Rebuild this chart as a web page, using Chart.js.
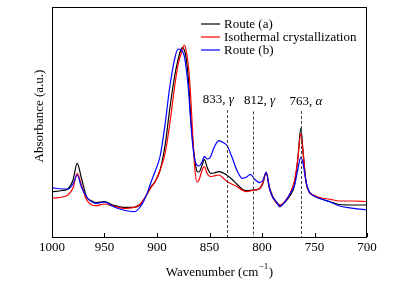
<!DOCTYPE html>
<html>
<head>
<meta charset="utf-8">
<script src="https://cdn.jsdelivr.net/npm/chart.js@4/dist/chart.umd.min.js"></script>
<style>
html,body{margin:0;padding:0;background:#fff;}
#wrap{width:398px;height:285px;position:relative;}
</style>
</head>
<body>
<div id="wrap"><canvas id="c" width="398" height="285"></canvas></div>
<script>
const wavenumber = [1000,990,985,980,976,972,967,962,958,950,942,932,922,916,910,906,902,897,892,888,883,880,878,876,874,872,870,868,866,864,862,860,857,855,852,849,846,841,837,833,829,824,819,815,811,807,802,799,796,793,790,787,783,778,773,769,766,763,761,758,755,752,745,735,726,713,700];
const routeA = [45.3,46.5,48,57,73.7,59,40,36,34.3,35.3,32,29.7,29.7,32,42,50,55,67,94,127,162,177,185,189.5,187,177,157,122,97,77,66,65,72,77.7,69,63.7,64,65.3,64,61.5,58,53,48,46.3,46.7,47,48.7,54,65,50,41,36,32,35,42,52,77,108.7,87,55,45,42,38.5,35.3,32.5,32,32];
const isothermal = [38.7,40,42,49,63.7,52,37,32,31.3,33,31,28.7,29.7,33,42,49,55,67,85,112,152,172,180,187,192,185,170,142,102,69,55,57,67,70.5,63,60.3,61,62,59,55.3,53,50.5,47,45.3,46,47,48.7,55,64.3,49,40,35,31.5,36,44,57,77,103.7,85,54,45,42.5,39.5,37.7,36,36,35.5];
const routeB = [49.3,48,48,53,62,50,40,35,33.7,35,30.5,27,25.3,30,42,54,65,81,115,149,179,188,187.5,186,181,167,147,117,92,77,72,71,75.3,80.3,78,80,88.7,96.3,94.5,91,81,67,58.7,59.7,62.7,57.7,54.3,57,64.7,49,40,36,30.3,35.3,44,52,67,79.7,74,55,45,42,38.5,35,31,28.7,27];
const seriesNames = ['Route (a)','Isothermal crystallization','Route (b)'];
const seriesColors = ['#000000','#ff0000','#0000ff'];
const xTicks = [1000,950,900,850,800,750,700];
const markerPos = [833,809,763];
const markerNum = ['833, ','812, ','763, '];
const markerSym = ['\u03b3','\u03b3','\u03b1'];

const seriesValues = [routeA, isothermal, routeB];
const FONT = '"Liberation Serif", "Times New Roman", serif';

const datasets = seriesValues.map((vals, i) => ({
  label: seriesNames[i],
  data: wavenumber.map((w, j) => ({x: w, y: vals[j]})),
  borderColor: seriesColors[i],
  borderWidth: 1.2,
  pointRadius: 0,
  fill: false,
  cubicInterpolationMode: 'monotone',
  order: 3 - i
}));

const decor = {
  id: 'decor',
  afterDatasetsDraw(chart) {
    const ctx = chart.ctx;
    const a = chart.chartArea;
    const xs = chart.scales.x;
    ctx.save();
    // dashed markers
    ctx.strokeStyle = '#444';
    ctx.lineWidth = 1;
    ctx.setLineDash([3, 2]);
    const tops = [110, 111.5, 111];
    markerPos.forEach((p, i) => {
      const x = Math.round(xs.getPixelForValue(p)) + 0.5;
      ctx.beginPath();
      ctx.moveTo(x, tops[i]);
      ctx.lineTo(x, a.bottom);
      ctx.stroke();
    });
    ctx.setLineDash([]);
    // marker labels
    const offs = [-9, 7, 5];
    const bases = [103, 103.5, 104.5];
    ctx.fillStyle = '#000';
    ctx.textBaseline = 'alphabetic';
    markerPos.forEach((p, i) => {
      const cx = xs.getPixelForValue(p) + offs[i];
      ctx.font = '13px ' + FONT;
      const w1 = ctx.measureText(markerNum[i]).width;
      ctx.font = 'italic 13px ' + FONT;
      const w2 = ctx.measureText(markerSym[i]).width;
      const x0 = cx - (w1 + w2) / 2;
      ctx.font = '13px ' + FONT;
      ctx.textAlign = 'left';
      ctx.fillText(markerNum[i], x0, bases[i]);
      ctx.font = 'italic 13px ' + FONT;
      ctx.fillText(markerSym[i], x0 + w1, bases[i]);
    });
    // frame
    ctx.strokeStyle = '#000';
    ctx.lineWidth = 1;
    ctx.strokeRect(a.left + 0.5, a.top + 0.5, a.right - a.left - 1, a.bottom - a.top);
    // inward ticks
    xTicks.forEach(t => {
      const x = Math.round(xs.getPixelForValue(t)) + 0.5;
      ctx.beginPath();
      ctx.moveTo(x, a.bottom);
      ctx.lineTo(x, a.bottom - 4);
      ctx.stroke();
    });
    // legend
    const ly = [24, 37, 50];
    seriesNames.forEach((n, i) => {
      ctx.strokeStyle = seriesColors[i];
      ctx.lineWidth = 1.2;
      ctx.beginPath();
      ctx.moveTo(201, ly[i]);
      ctx.lineTo(220, ly[i]);
      ctx.stroke();
      ctx.fillStyle = '#000';
      ctx.font = '13px ' + FONT;
      ctx.textAlign = 'left';
      ctx.textBaseline = 'middle';
      ctx.fillText(n, 224, ly[i] + 0.5);
    });
    // y title
    ctx.save();
    ctx.translate(40, 116);
    ctx.rotate(-Math.PI / 2);
    ctx.textAlign = 'center';
    ctx.textBaseline = 'middle';
    ctx.font = '13px ' + FONT;
    ctx.fillText('Absorbance (a.u.)', 0, 0);
    ctx.restore();
    // x title
    ctx.font = '13px ' + FONT;
    const t1 = 'Wavenumber (cm';
    const sup = '\u22121';
    const t3 = ')';
    const w1 = ctx.measureText(t1).width;
    ctx.font = '9px ' + FONT;
    const w2 = ctx.measureText(sup).width;
    ctx.font = '13px ' + FONT;
    const w3 = ctx.measureText(t3).width;
    let x0 = 219.5 - (w1 + w2 + w3 + 1) / 2;
    ctx.textAlign = 'left';
    ctx.textBaseline = 'alphabetic';
    ctx.fillText(t1, x0, 276);
    ctx.font = '9px ' + FONT;
    ctx.fillText(sup, x0 + w1 + 0.5, 269);
    ctx.font = '13px ' + FONT;
    ctx.fillText(t3, x0 + w1 + w2 + 1, 276);
    ctx.restore();
  }
};

new Chart(document.getElementById('c'), {
  type: 'line',
  data: { datasets },
  plugins: [decor],
  options: {
    responsive: false,
    animation: false,
    events: [],
    layout: { padding: { top: 7, right: 31, left: 0, bottom: 0 } },
    plugins: { legend: { display: false }, tooltip: { enabled: false } },
    scales: {
      x: {
        type: 'linear',
        reverse: true,
        min: 700,
        max: 1000,
        afterBuildTicks(s) { s.ticks = xTicks.map(v => ({value: v})); },
        afterFit(s) { s.height = 48; },
        grid: { display: false, drawTicks: false },
        border: { display: false },
        ticks: { color: '#000', padding: 3, maxRotation: 0, autoSkip: false, font: { family: FONT, size: 13 }, callback: v => String(v) }
      },
      y: {
        min: 0,
        max: 230,
        afterFit(s) { s.width = 52; },
        grid: { display: false, drawTicks: false },
        border: { display: false },
        ticks: { display: false }
      }
    }
  }
});
</script>
</body>
</html>
